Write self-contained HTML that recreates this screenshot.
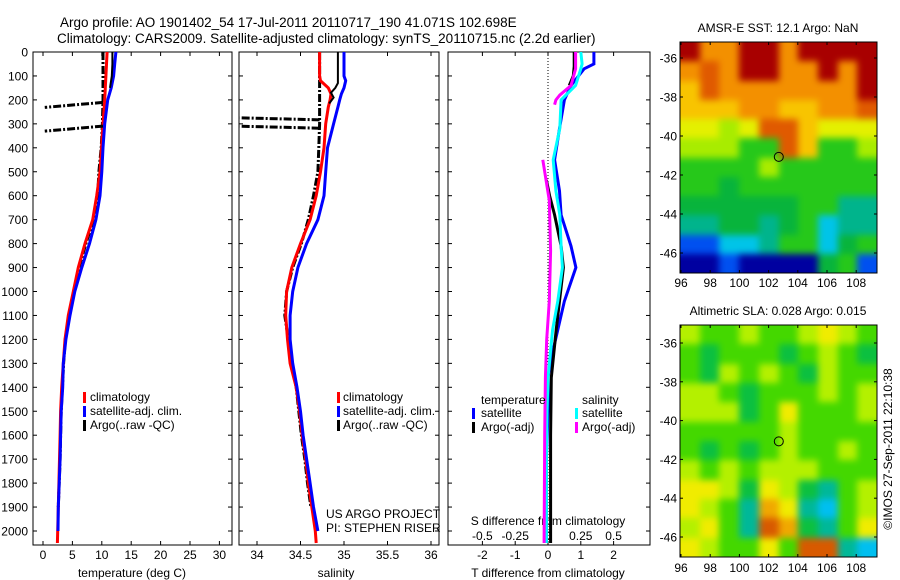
<!DOCTYPE html>
<html><head><meta charset="utf-8">
<style>
html,body{margin:0;padding:0;background:#fff;}
#wrap{position:relative;width:900px;height:580px;overflow:hidden;}
.map{position:absolute;overflow:hidden;}
.mapinner{position:absolute;left:-12px;top:-12px;filter:blur(3.5px);}
.cell{position:absolute;}
svg{position:absolute;left:0;top:0;display:block;font-family:"Liberation Sans",sans-serif;}
text{fill:#000;}
</style></head>
<body>
<div id="wrap">
<div class="map" id="mapTop" style="left:680px;top:42px;width:197px;height:231px;"><div class="mapinner" id="mapTopInner"></div></div>
<div class="map" id="mapBot" style="left:680px;top:325px;width:197px;height:232px;"><div class="mapinner" id="mapBotInner"></div></div>
<svg id="fig" width="900" height="580" viewBox="0 0 900 580" xmlns="http://www.w3.org/2000/svg">
<defs>
<clipPath id="clipP1"><rect x="33" y="52" width="199" height="493"/></clipPath>
<clipPath id="clipP2"><rect x="239" y="52" width="200" height="493"/></clipPath>
<clipPath id="clipP3"><rect x="448" y="52" width="202" height="493"/></clipPath>
</defs>
<text x="60" y="27" font-size="13.5">Argo profile: AO 1901402_54 17-Jul-2011 20110717_190 41.071S 102.698E</text>
<text x="57" y="43" font-size="13.5">Climatology: CARS2009. Satellite-adjusted climatology: synTS_20110715.nc (2.2d earlier)</text>
<g id="layer"></g>
</svg>
</div>
<script>
// ---------- Temperature panel data ----------
const tDepth = [0,50,100,150,200,300,400,500,600,700,800,900,1000,1100,1200,1300,1400,1500,1600,1700,1800,1900,2000,2050];
const tClim  = [10.9,10.8,10.7,10.6,10.5,10.2,9.95,9.7,9.13,8.45,7.14,6.0,5.16,4.3,3.74,3.46,3.18,3.0,2.9,2.8,2.7,2.6,2.5,2.45];
const tSat   = [12.4,12.2,12.0,11.6,11.0,10.5,10.2,10.0,9.7,9.0,7.9,6.6,5.4,4.6,3.9,3.46,3.35,3.1,3.0,2.9,2.75,2.6,2.55,null];
const tArgo  = [10.2,10.2,10.2,10.2,10.2,10.1,9.9,9.5,9.3,8.6,7.3,6.1,5.2,4.4,3.8,3.5,3.3,3.1,3.0,2.9,2.75,2.6,null,null];
const tRawDepth = [0,50,100,150];
const tRaw      = [11.8,11.8,11.7,11.4];
const tSpikeDepth = [223,322];
const tSpikeMin   = [0.3,0.3];
const tTicks = [0,5,10,15,20,25,30];
// ---------- Salinity panel data ----------
const sDepth = [0,50,100,120,150,175,200,230,300,400,500,600,700,800,900,1000,1100,1200,1300,1400,1500,1600,1700,1800,1900,2000,2050];
const sClim  = [34.72,34.72,34.72,34.73,34.82,34.85,34.84,34.82,34.79,34.77,34.73,34.68,34.61,34.5,34.4,34.34,34.33,34.35,34.38,34.45,34.49,34.52,34.56,34.59,34.63,34.67,34.68];
const sSat   = [35.0,35.0,35.0,35.02,35.0,34.97,34.95,34.93,34.88,34.81,34.79,34.77,34.7,34.57,34.47,34.41,34.38,34.38,34.41,34.46,34.5,34.53,34.57,34.61,34.65,34.7,null];
const sArgo  = [34.72,34.72,34.72,34.72,34.72,34.72,34.72,34.72,34.72,34.71,34.7,34.65,34.59,34.51,34.41,34.34,34.32,34.36,34.4,34.45,34.48,34.51,34.55,34.58,34.62,null,null];
const sRawDepth = [0,50,100,130,150,170,190,215];
const sRaw      = [34.93,34.93,34.93,34.93,34.9,34.85,34.88,34.83];
const sSpikeDepth = [279,314];
const sSpikeMin   = [33.8,33.8];
const sTicks = [34,34.5,35,35.5,36];
// ---------- Difference panel data ----------
const dSatDepth = [0,50,70,140,200,320,450,580,680,810,900,1040,1160,1290,1360,1500,1700,2050];
const dtSat = [1.4,1.4,1.1,0.7,0.5,0.35,0.2,0.35,0.4,0.7,0.85,0.5,0.3,0.08,0.0,0.0,-0.05,-0.05];
const dsSat = [0.25,0.26,0.25,0.21,0.1,0.09,0.04,0.06,0.09,0.1,0.11,0.075,0.035,0.012,0,-0.008,-0.012,-0.012];
const dtArgoDepth = [0,60,100,140,300,535,600,680,810,900,1040,1160,1360,1600,2050];
const dtArgo = [0.8,0.8,0.77,0.65,null,-0.05,0.05,0.2,0.4,0.47,0.35,0.25,0.1,0.08,0.08];
const dsArgoDepth = [0,70,140,180,200,220,330,450,620,830,1040,1200,1360,1600,2050];
const dsArgo = [0.21,0.21,0.175,0.09,0.06,0.05,null,-0.04,0.01,0.02,0.01,-0.01,-0.02,-0.025,-0.03];
const dtTicks = [-2,-1,0,1,2];
const dsTicks = [-0.5,-0.25,0,0.25,0.5];
const dsTickLabels = ["-0.5","-0.25","0","0.25","0.5"];
const depthTicks = [0,100,200,300,400,500,600,700,800,900,1000,1100,1200,1300,1400,1500,1600,1700,1800,1900,2000];
// ---------- Map data ----------
const lonTicks = [96,98,100,102,104,106,108];
const latTicks = [-36,-38,-40,-42,-44,-46];
const argoLon = 102.698, argoLat = -41.071;
const sstGrid = ["RooRRoRRRR","oOoRRooRoR","YOoooooooR","YYYooYYooO","yyLyOOYyyy","LLLGGOYGGL","GGGGLGGGGG","GGgGGGGGGG","ggggggGGTT","TTggTgGCTT","BBCCTGGCgG","DDBDDDDgGB"];
const slaGrid = ["LGGLGGLYLG","GgGGGgGLGg","GgLGLGgLGG","LLGgGGGLGL","LLLgGYGGGL","GGGGGLGGGG","GgGgGLGGLG","LGLGLLLGGG","YYLgYLgTGL","YLGTOYTCGL","LYGTROgTGY","YLGGYGRRTC"];
const sstColors = {R:"#a80000",O:"#e05a00",o:"#f39000",Y:"#f8c400",y:"#e4f000",L:"#a8ec00",G:"#26c81a",g:"#08b43c",T:"#00b48c",C:"#00c4e8",B:"#0050f0",D:"#0000a0"};
const slaColors = {Y:"#f0ec00",L:"#b4f000",G:"#44d800",g:"#0cc040",T:"#00b898",C:"#00bff0",O:"#f0a800",R:"#d85a00"};

const NS="http://www.w3.org/2000/svg";
const layer=document.getElementById('layer');
function mk(tag,attrs,parent){const e=document.createElementNS(NS,tag);for(const k in attrs)e.setAttribute(k,attrs[k]);(parent||layer).appendChild(e);return e;}

const Y0=52, YB=545;
function yD(d){return Y0+d*0.2395;}
function xT(v){return 43+v*5.88;}
function xS(v){return 257+(v-34)*87;}
function xD(v){return 548+v*32.8;}
function xDS(v){return 548+v*4*32.8;}

function pathFrom(depths,vals,xf){
  let d="",pen=false;
  for(let i=0;i<depths.length;i++){
    if(vals[i]===null){pen=false;continue;}
    d+=(pen?"L":"M")+xf(vals[i]).toFixed(1)+" "+yD(depths[i]).toFixed(1);pen=true;
  }
  return d;
}
function series(depths,vals,xf,color,w,dash,name,clip){
  const p=mk('path',{d:pathFrom(depths,vals,xf),fill:"none",stroke:color,"stroke-width":w,"stroke-linejoin":"miter"});
  if(dash)p.setAttribute('stroke-dasharray',dash);
  if(clip)p.setAttribute('clip-path','url(#'+clip+')');
  
  
  return p;
}
function frame(x0,x1,name){
  const r=mk('rect',{x:x0,y:Y0,width:x1-x0,height:YB-Y0,fill:"none",stroke:"#000","stroke-width":1});
  
  
  for(const d of depthTicks){
    const y=yD(d);
    mk('line',{x1:x0,y1:y,x2:x0+4,y2:y,stroke:"#000"});
    mk('line',{x1:x1,y1:y,x2:x1-4,y2:y,stroke:"#000"});
  }
}
function xticks(x0,ticks,xf,labels,ly,name){
  ticks.forEach((t,i)=>{
    const x=xf(t);
    mk('line',{x1:x,y1:YB,x2:x,y2:YB-4,stroke:"#000"});
    mk('line',{x1:x,y1:Y0,x2:x,y2:Y0+4,stroke:"#000"});
    if(labels){
      const tx=mk('text',{x:x,y:ly,"font-size":12,"text-anchor":"middle"});
      tx.textContent=labels[i];
      
      
    }
  });
}
function label(x,y,txt,name,size,anchor){
  const t=mk('text',{x:x,y:y,"font-size":size||12,"text-anchor":anchor||"start"});
  t.textContent=txt;
  
  
  return t;
}
function legendMark(x,y,color,name){
  const r=mk('rect',{x:x,y:y-9,width:3,height:11,fill:color});
  
  
}

// ---------- Panel 1: temperature ----------
frame(33,232,'temperature-panel-frame');
depthTicks.forEach(d=>{
  label(28,yD(d)+4.5,String(d),'depth-tick-label',12,'end');
});
xticks(33,tTicks,xT,tTicks.map(String),559,'temperature-tick-label');
label(132,577,'temperature (deg C)','x-axis-title-temperature',12,'middle');
series(tDepth,tArgo,xT,'#000000',3,'8,2,2,2','temperature-argo-line','clipP1');
series(tDepth,tClim,xT,'#ff0000',3,null,'temperature-climatology-line','clipP1');
series(tDepth,tSat,xT,'#0000ff',3,null,'temperature-satellite-line','clipP1');
series(tRawDepth,tRaw,xT,'#000000',2,null,'temperature-argo-raw-line','clipP1');
tSpikeDepth.forEach((d,i)=>{
  const sp=mk('path',{d:'M'+xT(10.2)+' '+(yD(d)-3)+'L'+xT(tSpikeMin[i])+' '+(yD(d)+2),stroke:'#000','stroke-width':3,'stroke-dasharray':'8,2,2,2',fill:'none'});
  
  
});
legendMark(83,401,'#ff0000','legend-marker-climatology');
legendMark(83,415,'#0000ff','legend-marker-satellite');
legendMark(83,429,'#000000','legend-marker-argo');
label(90,401,'climatology','legend-entry-climatology');
label(90,415,'satellite-adj. clim.','legend-entry-satellite');
label(90,429,'Argo(..raw -QC)','legend-entry-argo');

// ---------- Panel 2: salinity ----------
frame(239,439,'salinity-panel-frame');
xticks(239,sTicks,xS,["34","34.5","35","35.5","36"],559,'salinity-tick-label');
label(336,577,'salinity','x-axis-title-salinity',12,'middle');
series(sDepth,sArgo,xS,'#000000',3,'8,2,2,2','salinity-argo-line','clipP2');
series(sDepth,sClim,xS,'#ff0000',3,null,'salinity-climatology-line','clipP2');
series(sDepth,sSat,xS,'#0000ff',3,null,'salinity-satellite-line','clipP2');
series(sRawDepth,sRaw,xS,'#000000',2,null,'salinity-argo-raw-line','clipP2');
sSpikeDepth.forEach((d,i)=>{
  const sp=mk('path',{d:'M'+xS(34.72)+' '+(yD(d)+1)+'L'+xS(sSpikeMin[i])+' '+(yD(d)-1),stroke:'#000','stroke-width':3,'stroke-dasharray':'8,2,2,2',fill:'none'});
  sp.setAttribute('clip-path','url(#clipP2)');
  
  
});
legendMark(337,401,'#ff0000','legend-marker-climatology-2');
legendMark(337,415,'#0000ff','legend-marker-satellite-2');
legendMark(337,429,'#000000','legend-marker-argo-2');
label(343,401,'climatology','legend-entry-climatology-2');
label(343,415,'satellite-adj. clim.','legend-entry-satellite-2');
label(343,429,'Argo(..raw -QC)','legend-entry-argo-2');
label(326,518,'US ARGO PROJECT','credit-project');
label(326,532,'PI: STEPHEN RISER','credit-pi');

// ---------- Panel 3: differences ----------
frame(448,650,'difference-panel-frame');
xticks(448,dtTicks,xD,["-2","-1","0","1","2"],559,'t-difference-tick-label');
dsTicks.forEach((t,i)=>{
  label(xDS(t),540,dsTickLabels[i],'s-difference-tick-label',12,'middle');
});
label(548,525,'S difference from climatology','s-axis-title',12,'middle');
label(548,577,'T difference from climatology','t-axis-title',12,'middle');
const zl=mk('line',{x1:xD(0),y1:Y0,x2:xD(0),y2:YB,stroke:'#000','stroke-width':1,'stroke-dasharray':'1,2'});


series(dSatDepth,dtSat,xD,'#0000ff',3,null,'t-diff-satellite-line','clipP3');
series(dtArgoDepth,dtArgo,xD,'#000000',3,null,'t-diff-argo-line','clipP3');
series(dSatDepth,dsSat,xDS,'#00ffff',3,null,'s-diff-satellite-line','clipP3');
series(dsArgoDepth,dsArgo,xDS,'#ff00ff',3,null,'s-diff-argo-line','clipP3');
label(481,404,'temperature','legend-title-temperature');
label(582,404,'salinity','legend-title-salinity');
legendMark(472,417,'#0000ff','legend-marker-t-satellite');
legendMark(472,431,'#000000','legend-marker-t-argo');
legendMark(575,417,'#00ffff','legend-marker-s-satellite');
legendMark(575,431,'#ff00ff','legend-marker-s-argo');
label(481,417,'satellite','legend-entry-t-satellite');
label(481,431,'Argo(-adj)','legend-entry-t-argo');
label(582,417,'satellite','legend-entry-s-satellite');
label(582,431,'Argo(-adj)','legend-entry-s-argo');

// ---------- Maps ----------
function lonX(l){return 681+(l-96)*14.6;}
function fillGrid(innerId,grid,colors,w,h){
  const inner=document.getElementById(innerId);
  const rows=grid.length, cols=grid[0].length;
  const cw=w/cols, ch=h/rows, pad=12;
  inner.style.width=(w+2*pad)+'px'; inner.style.height=(h+2*pad)+'px';
  for(let r=0;r<rows;r++)for(let c=0;c<cols;c++){
    let x=pad+c*cw,y=pad+r*ch,ww=cw+0.6,hh=ch+0.6;
    if(c===0){x-=pad;ww+=pad;} if(c===cols-1){ww+=pad;}
    if(r===0){y-=pad;hh+=pad;} if(r===rows-1){hh+=pad;}
    const d=document.createElement('div');
    d.className='cell';
    d.style.cssText='left:'+x+'px;top:'+y+'px;width:'+ww+'px;height:'+hh+'px;background:'+colors[grid[r][c]];
    
    
    inner.appendChild(d);
  }
}
function drawMap(top,bottom,off,scale,grid,colors,innerId,title,name,lonLabelY){
  const latY=l=>top+off+(-36-l)*scale;
  fillGrid(innerId,grid,colors,197,bottom-top);
  const fr=mk('rect',{x:680,y:top,width:197,height:bottom-top,fill:'none',stroke:'#000'});
  
  
  lonTicks.forEach(l=>{
    const x=lonX(l);
    mk('line',{x1:x,y1:bottom,x2:x,y2:bottom-3,stroke:'#000'});
    mk('line',{x1:x,y1:top,x2:x,y2:top+3,stroke:'#000'});
    label(x,lonLabelY,String(l),name+'-lon-tick-label',12,'middle');
  });
  latTicks.forEach(l=>{
    const y=latY(l);
    mk('line',{x1:680,y1:y,x2:683,y2:y,stroke:'#000'});
    mk('line',{x1:877,y1:y,x2:874,y2:y,stroke:'#000'});
    label(677,y+4.5,String(l),name+'-lat-tick-label',12,'end');
  });
  const ci=mk('circle',{cx:lonX(argoLon),cy:latY(argoLat),r:4.5,fill:'none',stroke:'#000','stroke-width':1});
  
  
  label(778,top-10,title,name+'-title',12,'middle');
}
drawMap(42,273,16,19.5,sstGrid,sstColors,'mapTopInner','AMSR-E SST: 12.1 Argo: NaN','sst-map',287);
drawMap(325,557,18,19.4,slaGrid,slaColors,'mapBotInner','Altimetric SLA: 0.028 Argo: 0.015','sla-map',572);
const vt=mk('text',{x:0,y:0,'font-size':12,'text-anchor':'middle',transform:'translate(892,449) rotate(-90)'});
vt.textContent='©IMOS 27-Sep-2011 22:10:38';


</script>
</body></html>
